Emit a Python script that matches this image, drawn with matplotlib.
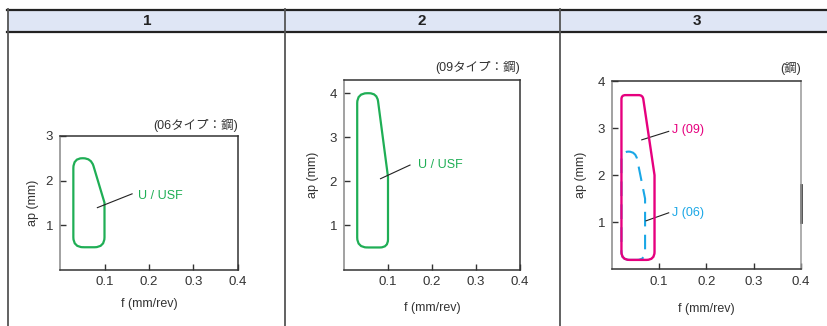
import numpy as np
import matplotlib
matplotlib.use("Agg")
import matplotlib.pyplot as plt
from matplotlib.path import Path
from matplotlib.patches import PathPatch, Rectangle

plt.rcParams['font.family'] = ['Liberation Sans', 'Noto Sans CJK JP', 'DejaVu Sans']

W, H = 828, 326

# chart data
headers = ["1", "2", "3"]
notes = ["(06タイプ：鋼)", "(09タイプ：鋼)", "(鋼)"]
x_ticks = [0.1, 0.2, 0.3, 0.4]
y_ticks = [[1, 2, 3], [1, 2, 3, 4], [1, 2, 3, 4]]
y_max = [3.0, 4.3, 4.0]

usf06_f = [0.03, 0.03, 0.07, 0.10, 0.10]
usf06_ap = [0.5, 2.5, 2.5, 1.5, 0.5]
usf09_f = [0.03, 0.03, 0.075, 0.10, 0.10]
usf09_ap = [0.5, 4.0, 4.0, 2.1, 0.5]
j09_f = [0.02, 0.02, 0.065, 0.09, 0.09]
j09_ap = [0.2, 3.7, 3.7, 2.0, 0.2]
j06_f = [0.02, 0.02, 0.05, 0.07, 0.07]
j06_ap = [0.2, 2.5, 2.5, 1.5, 0.2]

GREEN = "#1fae55"
MAGENTA = "#e6007e"
CYAN = "#1aa7e6"
TXT = "#333333"

fig = plt.figure(figsize=(W / 100, H / 100), dpi=100)

# table frame
bg = fig.add_axes([0, 0, 1, 1])
bg.set_xlim(0, W)
bg.set_ylim(H, 0)
bg.axis("off")
bg.add_patch(Rectangle((7, 9), W - 7, 23, facecolor="#dfe6f5", edgecolor="none"))
bg.plot([7, W], [9.5, 9.5], color="#222222", lw=1.6)
bg.plot([7, W], [32, 32], color="#222222", lw=1.6)
for xd in [8.5, 285, 560]:
    bg.plot([xd, xd], [9, H], color="#555555", lw=1.3)
for xc, h in zip([147, 422, 697], headers):
    bg.text(xc, 21, h, ha="center", va="center", fontsize=11, fontweight="bold", color="#222222")


def rounded(ax, xs, ys, radii, **kw):
    pts = ax.transData.transform(np.column_stack([xs, ys]))
    n = len(pts)
    verts, codes = [], []
    for i in range(n):
        p0, p1, p2 = pts[i - 1], pts[i], pts[(i + 1) % n]
        d1, d2 = p0 - p1, p2 - p1
        r = radii[i]
        a = p1 + d1 / np.linalg.norm(d1) * min(r, np.linalg.norm(d1) / 2)
        b = p1 + d2 / np.linalg.norm(d2) * min(r, np.linalg.norm(d2) / 2)
        verts += [a, p1, b]
        codes += [Path.MOVETO if i == 0 else Path.LINETO, Path.CURVE3, Path.CURVE3]
    verts.append(verts[0])
    codes.append(Path.LINETO)
    verts = ax.transData.inverted().transform(np.array(verts))
    ax.add_patch(PathPatch(Path(verts, codes), facecolor="none", **kw))


def make_axes(box, ymax, yt, note, ylab_x, xlab_y):
    l, r, t, b = box
    ax = fig.add_axes([l / W, (H - b) / H, (r - l) / W, (b - t) / H])
    ax.set_xlim(0, 0.4)
    ax.set_ylim(0, ymax)
    ax.set_xticks(x_ticks)
    ax.set_xticklabels([f"{v:g}" for v in x_ticks])
    ax.set_yticks(yt)
    ax.tick_params(direction="in", length=4, width=1, labelsize=9.5, colors=TXT, pad=5)
    for s in ["top", "right", "bottom"]:
        ax.spines[s].set_color("#333333")
    ax.spines["left"].set_color("#888888")
    for s in ax.spines.values():
        s.set_linewidth(1.1)
    ax.set_xlabel("f (mm/rev)", fontsize=9, color=TXT)
    ax.set_ylabel("ap (mm)", fontsize=9, color=TXT)
    ax.yaxis.set_label_coords(ylab_x, 0.5)
    ax.xaxis.set_label_coords(0.5, xlab_y)
    ax.text(1.0, 1.03, note, transform=ax.transAxes, ha="right", va="bottom",
            fontsize=9, color=TXT)
    return ax


ax1 = make_axes((60, 238, 136, 269.5), y_max[0], y_ticks[0], notes[0], -0.12, -0.21)
rounded(ax1, usf06_f, usf06_ap, [10, 10, 8, 0, 10], edgecolor=GREEN, lw=1.6)
ax1.plot([0.084, 0.162], [1.39, 1.7], color="#222222", lw=0.8)
ax1.text(0.176, 1.66, "U / USF", color=GREEN, fontsize=9, va="center")

ax2 = make_axes((344, 520, 80, 269.5), y_max[1], y_ticks[1], notes[1], -0.14, -0.17)
rounded(ax2, usf09_f, usf09_ap, [10, 10, 8, 0, 8], edgecolor=GREEN, lw=1.6)
ax2.plot([0.083, 0.15], [2.06, 2.37], color="#222222", lw=0.8)
ax2.text(0.168, 2.36, "U / USF", color=GREEN, fontsize=9, va="center")

ax3 = make_axes((612, 801, 81, 269.3), y_max[2], y_ticks[2], notes[2], -0.13, -0.18)
ax3.spines["right"].set_color("#999999")
ax3.plot([0.4, 0.4], [1.0, 1.8], color="#444444", lw=2, clip_on=False)
rounded(ax3, j06_f, j06_ap, [8, 8, 8, 0, 8], edgecolor=CYAN, lw=1.5, linestyle=(0, (7, 4)), zorder=2)
rounded(ax3, j09_f, j09_ap, [8, 4, 4, 0, 8], edgecolor=MAGENTA, lw=1.7, zorder=3)
ax3.plot([0.063, 0.12], [2.75, 2.93], color="#222222", lw=0.8)
ax3.text(0.127, 2.95, "J (09)", color=MAGENTA, fontsize=9, va="center")
ax3.plot([0.072, 0.12], [1.03, 1.2], color="#222222", lw=0.8)
ax3.text(0.127, 1.2, "J (06)", color=CYAN, fontsize=9, va="center")

fig.savefig("out.png", dpi=100)
